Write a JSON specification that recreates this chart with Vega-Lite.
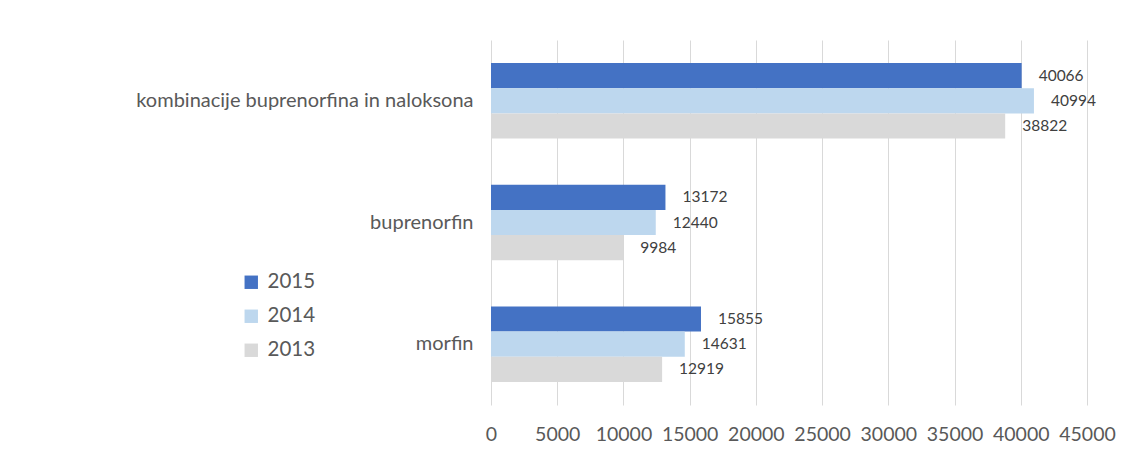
{
  "$schema": "https://vega.github.io/schema/vega-lite/v6.json",
  "width": 596,
  "height": 365,
  "autosize": {"type": "none"},
  "padding": {"left": 491, "top": 40, "right": 48, "bottom": 52},
  "background": "white",
  "config": {
    "view": {"stroke": null},
    "font": "Lato",
    "axis": {"labelColor": "#595959", "domain": false, "ticks": false, "grid": false},
    "legend": {"labelColor": "#595959"}
  },
  "data": {
    "values": [
      {"drug": "kombinacije buprenorfina in naloksona", "year": "2015", "value": 40066},
      {"drug": "kombinacije buprenorfina in naloksona", "year": "2014", "value": 40994},
      {"drug": "kombinacije buprenorfina in naloksona", "year": "2013", "value": 38822},
      {"drug": "buprenorfin", "year": "2015", "value": 13172},
      {"drug": "buprenorfin", "year": "2014", "value": 12440},
      {"drug": "buprenorfin", "year": "2013", "value": 9984},
      {"drug": "morfin", "year": "2015", "value": 15855},
      {"drug": "morfin", "year": "2014", "value": 14631},
      {"drug": "morfin", "year": "2013", "value": 12919}
    ]
  },
  "encoding": {
    "y": {
      "field": "drug", "type": "nominal",
      "sort": ["kombinacije buprenorfina in naloksona", "buprenorfin", "morfin"],
      "scale": {"paddingInner": 0.38, "paddingOuter": 0.19},
      "axis": {"title": null, "labelFontSize": 20, "labelPadding": 18, "labelLimit": 500}
    },
    "yOffset": {
      "field": "year", "type": "nominal",
      "sort": ["2015", "2014", "2013"]
    },
    "x": {
      "field": "value", "type": "quantitative",
      "scale": {"domain": [0, 45000], "nice": false},
      "axis": {"title": null, "values": [0,5000,10000,15000,20000,25000,30000,35000,40000,45000], "grid": true, "gridColor": "#d9d9d9", "gridWidth": 1, "labelFontSize": 19.5, "labelPadding": 20, "labelOverlap": false, "labelFlush": false, "format": "d"}
    }
  },
  "layer": [
    {
      "mark": {"type": "bar"},
      "encoding": {
        "color": {
          "field": "year", "type": "nominal",
          "scale": {"domain": ["2015", "2014", "2013"], "range": ["#4472C4", "#BDD7EE", "#D9D9D9"]},
          "legend": {
            "title": null, "orient": "none", "legendX": -250, "legendY": 232,
            "symbolType": "square", "symbolSize": 180, "symbolStrokeWidth": 0,
            "labelFontSize": 20.5, "rowPadding": 13, "labelOffset": 6
          }
        }
      }
    },
    {
      "mark": {"type": "text", "align": "left", "dx": 17, "fontSize": 15.5, "color": "#404040"},
      "encoding": {"text": {"field": "value", "type": "quantitative", "format": "d"}}
    }
  ]
}
